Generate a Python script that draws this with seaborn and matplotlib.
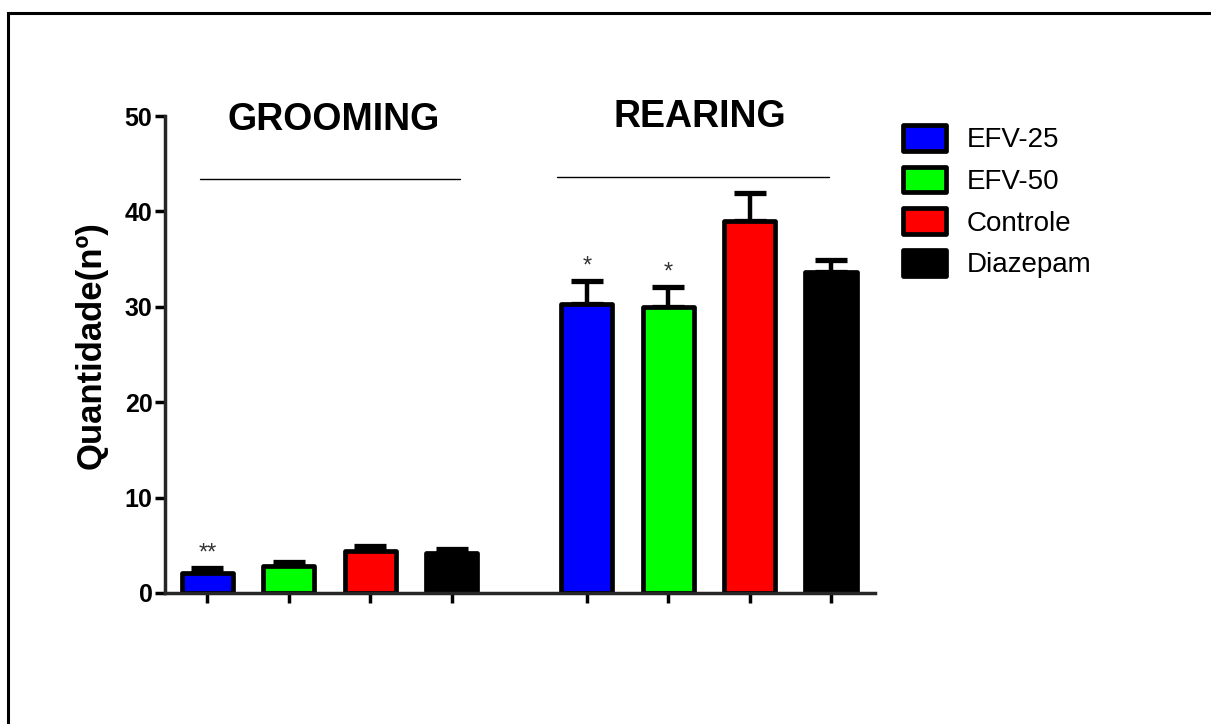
import matplotlib
matplotlib.use("Agg")
import matplotlib.pyplot as plt
from matplotlib.patches import Rectangle
import pandas as pd
import seaborn as sns

# data (mean and upper error)
tratamentos = ["EFV-25", "EFV-50", "Controle", "Diazepam"]
cores = ["#0000ff", "#00ff00", "#ff0000", "#000000"]
grooming_media = [2.1, 2.8, 4.4, 4.2]
grooming_erro = [0.5, 0.5, 0.5, 0.4]
rearing_media = [30.3, 30.0, 39.0, 33.6]
rearing_erro = [2.4, 2.1, 2.9, 1.3]
grooming_sig = ["**", "", "", ""]
rearing_sig = ["*", "*", "", ""]

# bar positions: two groups with a wider gap between them
pos_grooming = [0, 1, 2, 3]
pos_rearing = [4.66, 5.66, 6.66, 7.66]

df = pd.DataFrame({
    "pos": pos_grooming + pos_rearing,
    "valor": grooming_media + rearing_media,
    "erro": grooming_erro + rearing_erro,
    "sig": grooming_sig + rearing_sig,
    "tratamento": tratamentos * 2,
})

sns.set_style("white")
plt.rcParams["font.family"] = ["Liberation Sans", "DejaVu Sans"]
plt.rcParams["text.color"] = "black"
plt.rcParams["axes.labelcolor"] = "black"
plt.rcParams["xtick.color"] = "black"
plt.rcParams["ytick.color"] = "black"

fig = plt.figure(figsize=(12.11, 7.24), dpi=100)
ax = fig.add_axes([165 / 1211, 131 / 724, 710 / 1211, 477 / 724])

sns.barplot(data=df, x="pos", y="valor", hue="tratamento", hue_order=tratamentos,
            palette=cores, native_scale=True, dodge=False, width=0.63,
            edgecolor="black", linewidth=3.4, saturation=1, errorbar=None, ax=ax)
for p in ax.patches:
    p.set_joinstyle("round")
    p.set_zorder(2)

# upper error bars only (drawn behind the bars so the lower cap is hidden)
ax.errorbar(df["pos"], df["valor"], yerr=[[0] * len(df), df["erro"]], fmt="none",
            ecolor="black", elinewidth=3.2, capsize=11.5, capthick=3.8, zorder=1)

# significance marks
for x, y, e, s in zip(df["pos"], df["valor"], df["erro"], df["sig"]):
    if s:
        ax.text(x, y + e + 1.5, s, ha="center", va="center", fontsize=17, color="#333333")

# group titles with lines
ax.text(1.55, 49.6, "GROOMING", ha="center", va="center", fontsize=27, fontweight="bold")
ax.text(6.05, 49.9, "REARING", ha="center", va="center", fontsize=27, fontweight="bold")
ax.plot([-0.09, 3.1], [43.4, 43.4], color="black", lw=1, clip_on=False)
ax.plot([4.29, 7.64], [43.6, 43.6], color="black", lw=1, clip_on=False)

ax.set_xlim(-0.52, 8.2)
ax.set_ylim(0, 50)
ax.set_yticks([0, 10, 20, 30, 40, 50])
ax.set_xticks(df["pos"])
ax.set_xticklabels([])
ax.set_xlabel("")
ax.set_ylabel("Quantidade(nº)", fontsize=25, fontweight="bold")
ax.yaxis.set_label_coords(-0.081, 0.52)
ax.tick_params(axis="both", direction="out", length=7, width=2.5, color="black",
               bottom=True, left=True, pad=2)
for lab in ax.get_yticklabels():
    lab.set_fontweight("bold")
    lab.set_fontsize(18)
sns.despine(ax=ax)
ax.spines["left"].set_linewidth(2.5)
ax.spines["bottom"].set_linewidth(2.5)
ax.spines["left"].set_bounds(0, 50)

sns.move_legend(ax, "upper left", bbox_to_anchor=(903 / 1211, 1 - 125 / 724),
                bbox_transform=fig.transFigure, frameon=False, title=None,
                fontsize=20, handlelength=1.55, handleheight=1.05,
                handletextpad=0.75, labelspacing=0.48, borderpad=0, borderaxespad=0)
for h in ax.get_legend().get_patches():
    h.set_edgecolor("black")
    h.set_linewidth(3.4)
    h.set_joinstyle("round")

# outer frame of the figure (cut at the right and bottom)
fig.patches.append(Rectangle((8 / 1211, -0.1), 1.2, 1.1 - 13 / 724, fill=False,
                             edgecolor="black", linewidth=2.2, transform=fig.transFigure))

fig.savefig("out.png", dpi=100)
